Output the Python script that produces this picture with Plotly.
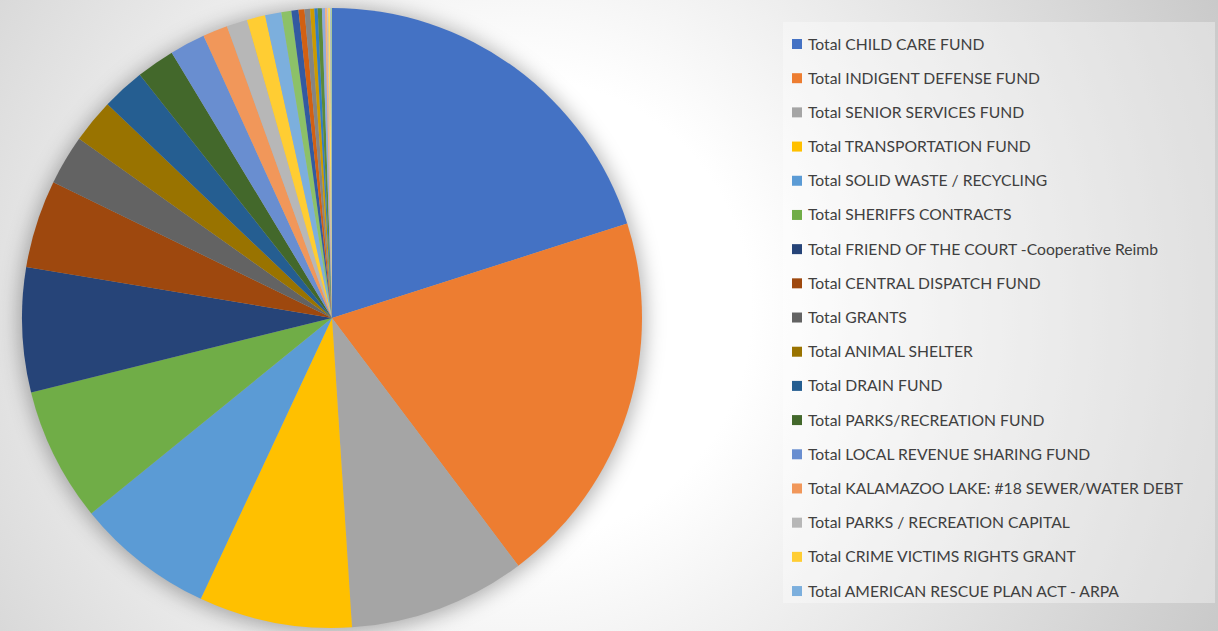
import base64
import plotly.graph_objects as go

# ---- data (approximate shares, percent) ----
legend_labels = [
    "Total CHILD CARE FUND",
    "Total INDIGENT DEFENSE FUND",
    "Total SENIOR SERVICES FUND",
    "Total TRANSPORTATION FUND",
    "Total SOLID WASTE / RECYCLING",
    "Total SHERIFFS CONTRACTS",
    "Total FRIEND OF THE COURT -Cooperative Reimb",
    "Total CENTRAL DISPATCH FUND",
    "Total GRANTS",
    "Total ANIMAL SHELTER",
    "Total DRAIN FUND",
    "Total PARKS/RECREATION FUND",
    "Total LOCAL REVENUE SHARING FUND",
    "Total KALAMAZOO LAKE: #18 SEWER/WATER DEBT",
    "Total PARKS / RECREATION CAPITAL",
    "Total CRIME VICTIMS RIGHTS GRANT",
    "Total AMERICAN RESCUE PLAN ACT - ARPA",
]
# slices beyond the visible legend (names cut off in the original)
extra_labels = [f"Other fund {i}" for i in range(18, 31)]

legend_values = [20.1, 19.7, 9.25, 8.0, 7.2, 7.0, 6.5, 4.6, 2.6, 2.3,
                 2.25, 2.0, 1.85, 1.3, 1.08, 0.96, 0.85]
extra_values = [0.52, 0.37, 0.31, 0.29, 0.22, 0.17, 0.22, 0.16, 0.10,
                0.06, 0.11, 0.05, 0.04]

colors = [
    "#4472C4", "#ED7D31", "#A5A5A5", "#FFC000", "#5B9BD5", "#70AD47",
    "#264478", "#9E480E", "#636363", "#997300", "#255E91", "#43682B",
    "#698ED0", "#F1975A", "#B7B7B7", "#FFCD33", "#7CAFDD", "#8CC168",
    "#335AA1", "#D26012", "#848484", "#CC9A00", "#327DC2", "#5A8A39",
    "#8FAADC", "#F4B183", "#C9C9C9", "#FFD966", "#9DC3E6", "#A9D18E",
]

labels = legend_labels + extra_labels
values = legend_values + extra_values

W, H = 1218, 631


def px_x(x):
    return x / W


def px_y(y):
    return 1 - y / H


# ---- background: radial gradient + soft shadow behind the pie ----
cx, cy, r = 332, 318, 310
svg = f"""<svg xmlns="http://www.w3.org/2000/svg" width="{W}" height="{H}" viewBox="0 0 {W} {H}">
<defs>
<radialGradient id="g" gradientUnits="userSpaceOnUse" cx="520" cy="310" r="770">
<stop offset="0" stop-color="#ffffff"/>
<stop offset="0.3" stop-color="#ffffff"/>
<stop offset="1" stop-color="#c9c9c9"/>
</radialGradient>
<filter id="b" x="-30%" y="-30%" width="160%" height="160%"><feGaussianBlur stdDeviation="10"/></filter>
</defs>
<rect width="{W}" height="{H}" fill="url(#g)"/>
<circle cx="{cx}" cy="{cy + 2}" r="{r + 3}" fill="#000000" fill-opacity="0.3" filter="url(#b)"/>
</svg>"""
bg_uri = "data:image/svg+xml;base64," + base64.b64encode(svg.encode()).decode()

fig = go.Figure()
fig.add_trace(go.Pie(
    labels=labels,
    values=values,
    sort=False,
    direction="clockwise",
    rotation=0,
    textinfo="none",
    marker=dict(colors=colors[:len(values)], line=dict(width=0)),
    domain=dict(x=[px_x(cx - r), px_x(cx + r)], y=[px_y(cy + r), px_y(cy - r)]),
    showlegend=False,
    hoverinfo="label+percent",
))

# ---- legend panel (manual, only the visible entries) ----
shapes = [dict(
    type="rect", xref="paper", yref="paper",
    x0=px_x(783), x1=px_x(1215), y0=px_y(603), y1=px_y(22),
    fillcolor="rgba(255,255,255,0.35)", line=dict(width=0), layer="below",
)]
annotations = []
row0, step = 43.5, 34.19
for i, lab in enumerate(legend_labels):
    yc = row0 + i * step
    shapes.append(dict(
        type="rect", xref="paper", yref="paper",
        x0=px_x(792), x1=px_x(802), y0=px_y(yc + 5.5), y1=px_y(yc - 4.5),
        fillcolor=colors[i], line=dict(width=0),
    ))
    annotations.append(dict(
        text=lab, xref="paper", yref="paper", x=px_x(806), y=px_y(yc),
        xanchor="left", yanchor="middle", showarrow=False,
        font=dict(family="Lato", size=15.7, color="#404040"),
    ))

fig.update_layout(
    width=W, height=H,
    margin=dict(l=0, r=0, t=0, b=0),
    paper_bgcolor="#ffffff",
    images=[dict(source=bg_uri, xref="paper", yref="paper", x=0, y=1,
                 sizex=1, sizey=1, sizing="stretch", layer="below",
                 xanchor="left", yanchor="top")],
    shapes=shapes,
    annotations=annotations,
)

fig.write_html(
    "out.html",
    config={"displayModeBar": False},
    post_script="document.body.style.margin='0';document.body.style.overflow='hidden';",
)
